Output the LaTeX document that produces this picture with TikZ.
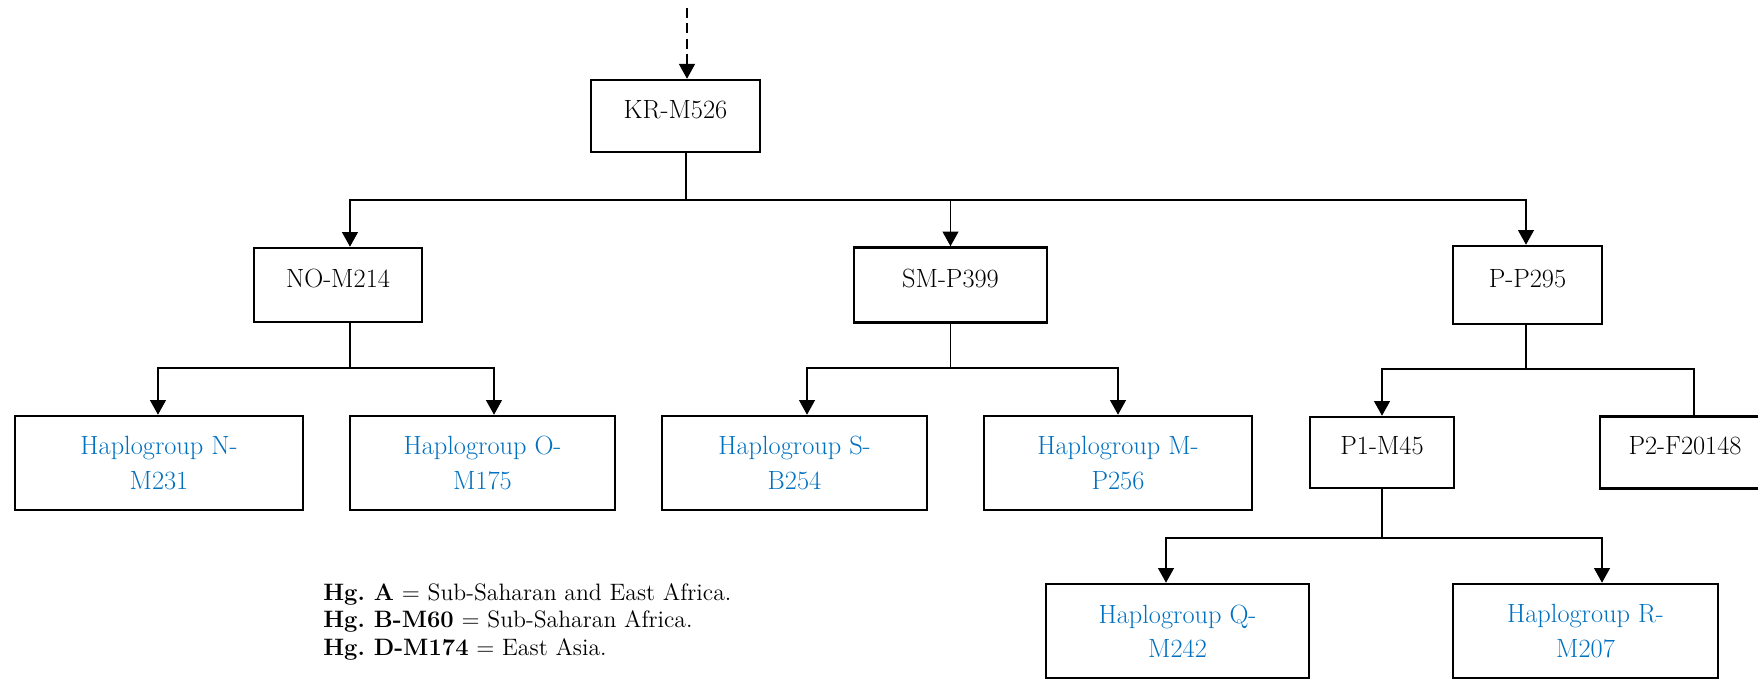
\documentclass[tikz,border=0pt]{standalone}
\usepackage{tikz}
\usetikzlibrary{shapes,arrows,arrows.meta,calc,positioning}
\definecolor{hgblue}{RGB}{0,112,192}
\frenchspacing

\begin{document}
\begin{tikzpicture}

    \tikzstyle{cbox} = [draw, line width=1.4pt, inner sep=0pt, text centered,
        font=\fontsize{15}{19.5}\selectfont]

    \tikzstyle{clade} = [cbox, text height=0.7em, text depth=0.45em]

    \tikzstyle{hg} = [cbox, text=hgblue, align=center,
        minimum width=5.3cm, minimum height=1.88cm]

    \tikzstyle{legend} = [align=left, inner sep=0pt, font=\fontsize{13.5}{15.6}\selectfont]

    \tikzstyle{link} = [line width=1.1pt]
    \tikzstyle{arr} = [link, -{Triangle[length=8.4pt,width=9pt]}]
    \tikzstyle{dasharr} = [arr, dash pattern=on 5.7pt off 3pt]

    \useasboundingbox (-13.51,2.32) rectangle (21.65,-11.26);

    % Root
    \node [clade, minimum width=3.38cm, minimum height=1.44cm] (kr) {KR-M526};
    \coordinate [node distance=2.16cm, above of=kr, xshift=0.23cm] (top);

    % Second level
    \node [clade, node distance=3.38cm, below of=kr, xshift=-6.75cm,
        minimum width=3.36cm, minimum height=1.48cm] (no) {NO-M214};
    \node [clade, node distance=12.25cm, right of=no,
        minimum width=3.86cm, minimum height=1.5cm] (sm) {SM-P399};
    \node [clade, node distance=11.54cm, right of=sm,
        minimum width=2.98cm, minimum height=1.56cm] (pp) {P-P295};

    % Haplogroups under NO and SM
    \node [hg, node distance=3.56cm, below of=no, xshift=-3.58cm, minimum width=5.76cm] (n) {Haplogroup N-\\M231};
    \node [hg, node distance=6.47cm, right of=n] (o) {Haplogroup O-\\M175};
    \node [hg, node distance=6.24cm, right of=o] (s) {Haplogroup S-\\B254};
    \node [hg, node distance=6.47cm, right of=s, minimum width=5.36cm] (m) {Haplogroup M-\\P256};

    % Branches of P
    \node [clade, node distance=3.35cm, below of=pp, xshift=-2.91cm,
        minimum width=2.88cm, minimum height=1.42cm] (p1) {P1-M45};
    \node [clade, node distance=6.06cm, right of=p1,
        minimum width=3.4cm, minimum height=1.44cm] (p2) {P2-F20148};
    \node [hg, node distance=3.57cm, below of=p1, xshift=-4.09cm, minimum width=5.26cm] (q) {Haplogroup Q-\\M242};
    \node [hg, node distance=8.16cm, right of=q] (r) {Haplogroup R-\\M207};

    % Key
    \node [legend, anchor=north west] (key) at (-7.05,-9.34)
        {\textbf{Hg. A} = Sub-Saharan and East Africa.\\
         \textbf{Hg. B-M60} = Sub-Saharan Africa.\\
         \textbf{Hg. D-M174} = East Asia.};

    % Junctions
    \coordinate (b1) at ($(kr.south)+(0.21,-0.94)$);
    \coordinate (b2) at ($(no.south)+(0.24,-0.9)$);
    \coordinate (b3) at ($(sm.south)+(0,-0.88)$);
    \coordinate (b4) at ($(pp.south)+(-0.03,-0.88)$);
    \coordinate (b5) at ($(p1.south)+(0,-0.98)$);

    \draw [dasharr] (top) -- (top |- kr.north);

    \draw [link] ([xshift=0.21cm]kr.south) -- (b1);
    \draw [arr] (b1) -| ([xshift=0.24cm]no.north);
    \draw [arr] (b1) -| (sm.north);
    \draw [arr] (b1) -| ([xshift=-0.03cm]pp.north);

    \draw [link] ([xshift=0.24cm]no.south) -- (b2);
    \draw [arr] (b2) -| ([xshift=-0.02cm]n.north);
    \draw [arr] (b2) -| ([xshift=0.23cm]o.north);

    \draw [link] (sm.south) -- (b3);
    \draw [arr] (b3) -| ([xshift=0.25cm]s.north);
    \draw [arr] (b3) -| (m.north);

    \draw [link] ([xshift=-0.03cm]pp.south) -- (b4);
    \draw [arr] (b4) -| (p1.north);
    \draw [link] (b4) -| ([xshift=0.18cm]p2.north);

    \draw [link] (p1.south) -- (b5);
    \draw [arr] (b5) -| ([xshift=-0.23cm]q.north);
    \draw [arr] (b5) -| ([xshift=0.33cm]r.north);

\end{tikzpicture}
\end{document}
